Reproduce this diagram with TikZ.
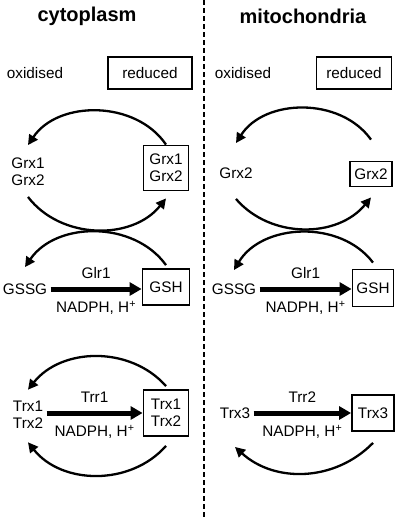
\documentclass[tikz,border=0pt]{standalone}
\usepackage{fontspec}
\setmainfont{Liberation Sans}
\usetikzlibrary{arrows.meta}

\begin{document}
\begin{tikzpicture}
		[x=1pt, y=-1pt,
		 font=\fontsize{15.3}{17}\selectfont,
		 title/.style= {font=\fontsize{20}{24}\selectfont\bfseries},
		 txt/.style= {align=center},
		 box/.style= {draw=black,line width=1.8pt,align=center,inner sep=0pt},
		 turn/.style= {line width=2.3pt,-{Triangle[length=10pt,width=10pt]}},
		 reaction/.style= {line width=5pt,-{Triangle[length=12pt,width=13pt]}},
		 divider/.style= {line width=1.5pt,dash pattern=on 5pt off 3pt}]

		\useasboundingbox (0,0) rectangle (400,517);

		% column titles and separator
		\node[title] (cyto) at ( 87,16) {cytoplasm};
		\node[title] (mito) at (303,16) {mitochondria};
		\coordinate (top) at (204,0);
		\coordinate (bottom) at (204,517);
		\draw[divider] (top) -- (bottom);

		% cytoplasm
		\node (oxC) at (35,73) {oxidised};
		\node[box,minimum width=84pt,minimum height=32pt] (redC) at (150,73) {reduced};

		\node[txt] (grxOxC) at (28,171.5) {Grx1\\Grx2};
		\node[box,minimum width=45pt,minimum height=45pt] (grxRedC) at (166,168) {Grx1\\Grx2};

		\node (gssgC) at (25,289) {GSSG};
		\node[box,minimum width=47pt,minimum height=36pt] (gshC) at (166,287) {GSH};

		\node[txt] (trxOxC) at (28,415) {Trx1\\Trx2};
		\node[box,minimum width=45pt,minimum height=46pt] (trxRedC) at (166,413) {Trx1\\Trx2};

		\draw[turn] (grxRedC.north) to[bend right=56] ([yshift=9pt]grxOxC.north);
		\draw[turn] ([yshift=-8pt]grxOxC.south) to[bend right=52] ([yshift=-7pt]grxRedC.south);
		\draw[turn] ([yshift=3pt]gshC.north) to[bend right=55] ([yshift=13pt]gssgC.north);
		\draw[reaction] (gssgC.east) -- (gssgC.east -| gshC.west)
			node[midway,above=5pt] (glrC) {Glr1}
			node[midway,below=6pt] (nadphC) {NADPH, H\textsuperscript{+}};

		\draw[turn] ([yshift=3pt]trxRedC.north) to[bend right=50] ([yshift=8pt]trxOxC.north);
		\draw[reaction] (trxOxC.east |- trxRedC) -- (trxRedC.west)
			node[midway,above=5pt] (trrC) {Trr1}
			node[midway,below=6pt] (nadphTC) {NADPH, H\textsuperscript{+}};
		\draw[turn] ([yshift=-9pt]trxRedC.south) to[bend left=50] ([yshift=-10pt]trxOxC.south);

		% mitochondria
		\node (oxM) at (243,73) {oxidised};
		\node[box,minimum width=75pt,minimum height=32pt] (redM) at (354,73) {reduced};

		\node (grxOxM) at (236,173) {Grx2};
		\node[box,minimum width=42pt,minimum height=25pt] (grxRedM) at (371,174) {Grx2};

		\node (gssgM) at (234,289) {GSSG};
		\node[box,minimum width=41pt,minimum height=37pt] (gshM) at (373,288) {GSH};

		\node (trxOxM) at (235,413) {Trx3};
		\node[box,minimum width=42pt,minimum height=36pt] (trxRedM) at (373,413) {Trx3};

		\draw[turn] ([yshift=21pt]grxRedM.north) to[bend right=56] ([yshift=21pt]grxOxM.north);
		\draw[turn] ([yshift=-17pt]grxOxM.south) to[bend right=50] ([yshift=-10pt]grxRedM.south);
		\draw[turn] ([yshift=6pt]gshM.north) to[bend right=56] ([yshift=10pt]gssgM.north);
		\draw[reaction] (gssgM.east) -- (gssgM.east -| gshM.west)
			node[midway,above=5pt] (glrM) {Glr1}
			node[midway,below=6pt] (nadphM) {NADPH, H\textsuperscript{+}};

		\draw[reaction] (trxOxM.east) -- (trxOxM.east -| trxRedM.west)
			node[midway,above=5pt] (trrM) {Trr2}
			node[midway,below=6pt] (nadphTM) {NADPH, H\textsuperscript{+}};
		\draw[turn] ([yshift=-11pt]trxRedM.south) to[bend left=44] ([yshift=-25pt]trxOxM.south);

	\end{tikzpicture}
\end{document}
